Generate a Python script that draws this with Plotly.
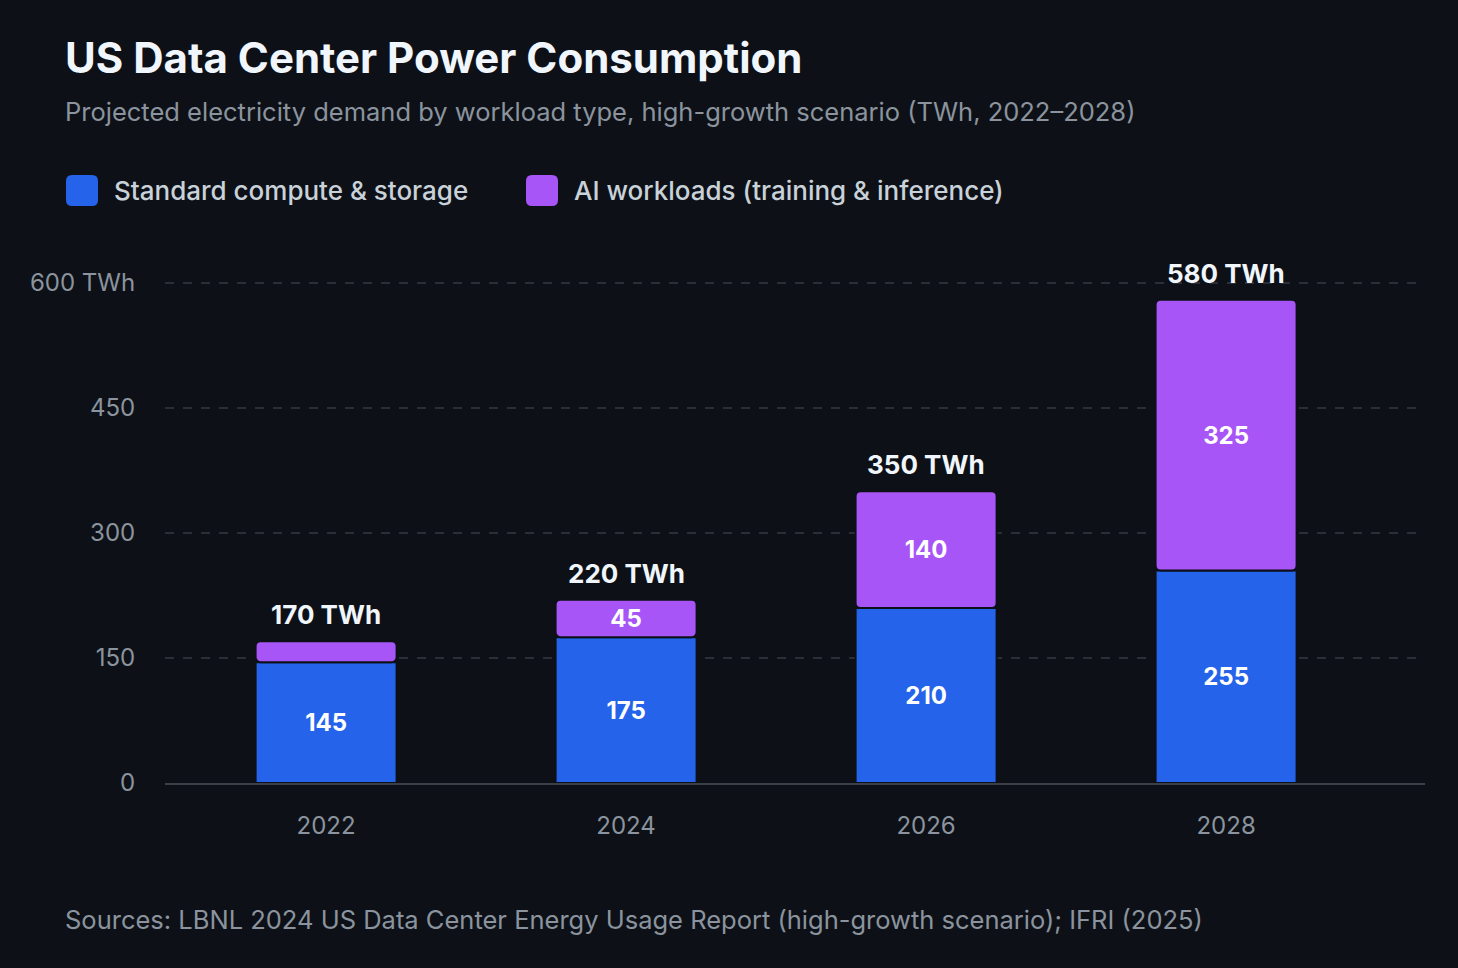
import plotly.graph_objects as go

years = ["2022", "2024", "2026", "2028"]
standard = [145, 175, 210, 255]
ai = [25, 45, 140, 325]
series_names = ["Standard compute & storage", "AI workloads (training & inference)"]
series_colors = ["#2563eb", "#a855f7"]
ytick_vals = [0, 150, 300, 450, 600]
ytick_text = ["0", "150", "300", "450", "600 TWh"]
totals = [s + a for s, a in zip(standard, ai)]

BG = "#0d1117"
FONT = "Inter"

# plot-area pixel geometry helpers (layout only)
W, H = 1458, 968
YMAX = 612
L, R, B = 165, 1425, 783
PX_PER_UNIT = 500 / 600
T = B - YMAX * PX_PER_UNIT


def px(x):
    return (x - L) / (R - L)


def py(y):
    return (B - y) / (B - T)


fig = go.Figure()
fig.add_trace(go.Bar(
    x=years, y=standard, name=series_names[0],
    marker=dict(color=series_colors[0], line=dict(color=BG, width=2)),
    width=0.47,
    text=[str(v) for v in standard], textposition="inside",
    insidetextanchor="middle",
    textfont=dict(family=FONT, size=24, color="#ffffff", weight="bold"),
    showlegend=False, hoverinfo="skip",
))
fig.add_trace(go.Bar(
    x=years, y=ai, base=standard, name=series_names[1],
    marker=dict(color=series_colors[1], line=dict(color=BG, width=2)),
    width=0.47,
    text=[str(v) if v >= 30 else "" for v in ai], textposition="inside",
    insidetextanchor="middle",
    textfont=dict(family=FONT, size=24, color="#ffffff", weight="bold"),
    showlegend=False, hoverinfo="skip",
))

annotations = []
for i, t in enumerate(totals):
    annotations.append(dict(
        x=i, y=t, xref="x", yref="y", text=f"{t} TWh", showarrow=False,
        yanchor="bottom", yshift=9,
        font=dict(family=FONT, size=26, color="#f0f6fc", weight="bold"),
    ))

# title, subtitle, source
annotations.append(dict(x=px(63), y=py(58), xref="paper", yref="paper", xanchor="left", yanchor="middle",
                        text="US Data Center Power Consumption", showarrow=False,
                        font=dict(family=FONT, size=42, color="#f0f6fc", weight="bold")))
annotations.append(dict(x=px(63), y=py(111), xref="paper", yref="paper", xanchor="left", yanchor="middle",
                        text="Projected electricity demand by workload type, high-growth scenario (TWh, 2022–2028)",
                        showarrow=False, font=dict(family=FONT, size=25.5, color="#8b949e")))
annotations.append(dict(x=px(63), y=py(919), xref="paper", yref="paper", xanchor="left", yanchor="middle",
                        text="Sources: LBNL 2024 US Data Center Energy Usage Report (high-growth scenario); IFRI (2025)",
                        showarrow=False, font=dict(family=FONT, size=25.5, color="#8b949e")))

# custom legend
shapes = []
legend_x = [66, 526]
for lx, name, col in zip(legend_x, series_names, series_colors):
    x0, x1, y0, y1 = lx, lx + 32, 175, 206
    r = 6
    rx = r / (R - L)
    ry = r / (B - T)
    X0, X1, Y0, Y1 = px(x0), px(x1), py(y1), py(y0)
    path = (f"M{X0+rx},{Y0} L{X1-rx},{Y0} Q{X1},{Y0} {X1},{Y0+ry} L{X1},{Y1-ry} Q{X1},{Y1} {X1-rx},{Y1} "
            f"L{X0+rx},{Y1} Q{X0},{Y1} {X0},{Y1-ry} L{X0},{Y0+ry} Q{X0},{Y0} {X0+rx},{Y0} Z")
    shapes.append(dict(type="path", xref="paper", yref="paper", path=path,
                       fillcolor=col, line=dict(width=0), layer="above"))
    annotations.append(dict(x=px(lx + 46), y=py(191), xref="paper", yref="paper", xanchor="left",
                            yanchor="middle", text=name, showarrow=False,
                            font=dict(family=FONT, size=26, color="#c9d1d9", weight=500)))

fig.update_layout(
    width=W, height=H,
    paper_bgcolor=BG, plot_bgcolor=BG,
    margin=dict(l=L, r=W - R, t=T, b=H - B, pad=0),
    barmode="overlay",
    barcornerradius=5,
    showlegend=False,
    font=dict(family=FONT, color="#8b949e"),
    annotations=annotations,
    shapes=shapes,
    xaxis=dict(
        type="category", range=[-0.537, 3.663],
        showgrid=False, zeroline=False, showline=True, linecolor="#3a3f47", linewidth=2,
        tickfont=dict(family=FONT, size=24, color="#8b949e"),
        ticks="outside", ticklen=20, tickcolor="rgba(0,0,0,0)",
    ),
    yaxis=dict(
        range=[0, YMAX], tickvals=ytick_vals, ticktext=ytick_text,
        showgrid=True, gridcolor="#2a2f37", griddash="dash", gridwidth=1.5,
        zeroline=False, showline=False,
        tickfont=dict(family=FONT, size=24, color="#8b949e"),
        ticks="outside", ticklen=24, tickcolor="rgba(0,0,0,0)",
    ),
)

fig.write_html("out.html", config={"displayModeBar": False},
               post_script="document.body.style.margin='0';document.body.style.overflow='hidden';")
